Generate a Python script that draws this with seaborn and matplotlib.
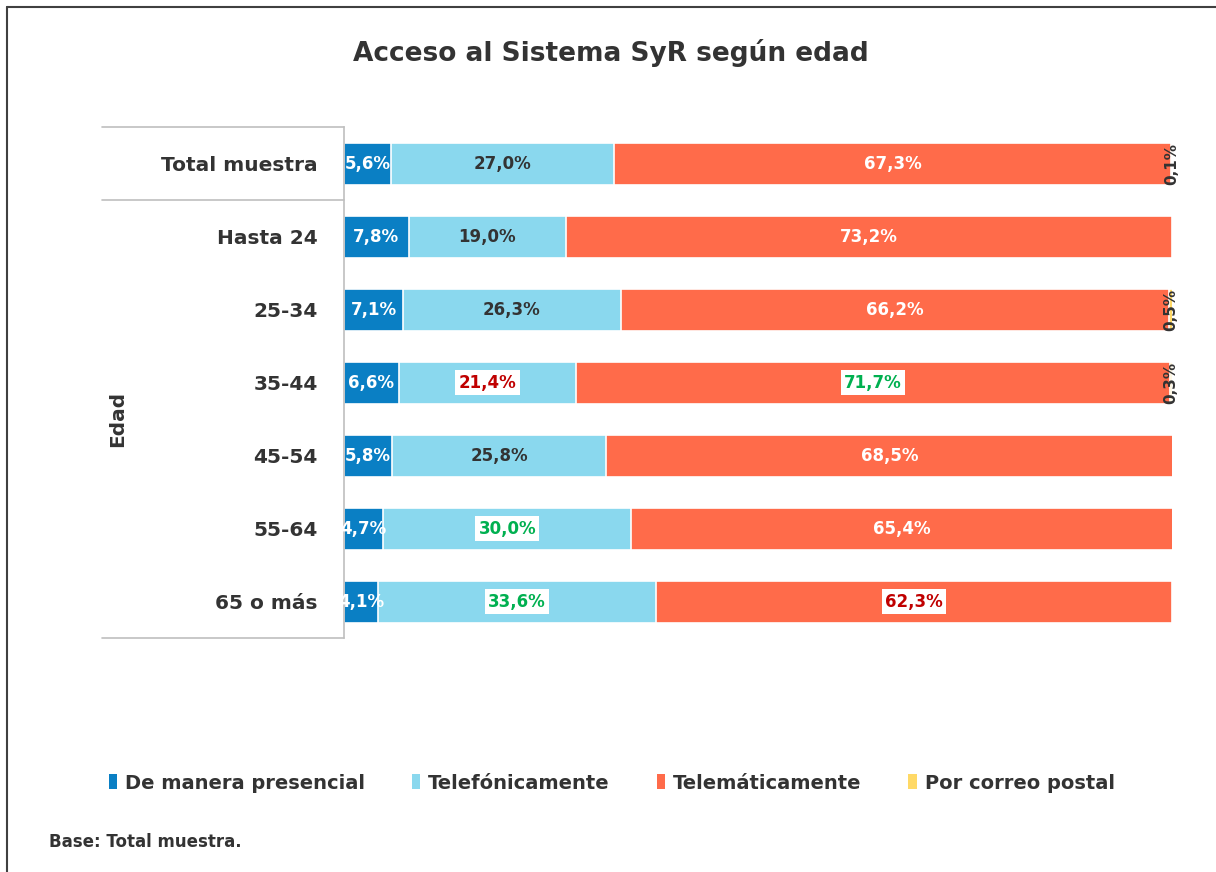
import numpy as np
import pandas as pd
import matplotlib
matplotlib.use('Agg')
import matplotlib.pyplot as plt
import matplotlib.transforms as mtransforms
from matplotlib.patches import Patch
import seaborn as sns

# Data
categories = ['Total muestra', 'Hasta 24', '25-34', '35-44', '45-54', '55-64', '65 o más']
series = ['De manera presencial', 'Telefónicamente', 'Telemáticamente', 'Por correo postal']
presencial = [5.6, 7.8, 7.1, 6.6, 5.8, 4.7, 4.1]
telefonica = [27.0, 19.0, 26.3, 21.4, 25.8, 30.0, 33.6]
telematica = [67.3, 73.2, 66.2, 71.7, 68.5, 65.4, 62.3]
correo = [0.1, 0.0, 0.5, 0.3, 0.0, 0.0, 0.0]

colors = ['#0A7FC4', '#8AD8EE', '#FF6B4A', '#FFD966']
label_colors = ['white', '#333333', 'white', '#333333']
# highlighted labels: (category, series index) -> text colour
highlights = {('35-44', 1): '#C00000', ('35-44', 2): '#00B050',
              ('55-64', 1): '#00B050', ('65 o más', 1): '#00B050',
              ('65 o más', 2): '#C00000'}

df = pd.DataFrame({'cat': categories, series[0]: presencial, series[1]: telefonica,
                   series[2]: telematica, series[3]: correo})
cum = df[series].cumsum(axis=1)

sns.set_style('white')
plt.rcParams['font.family'] = ['DejaVu Sans']
fig, ax = plt.subplots(figsize=(12.16, 8.72), dpi=100)
fig.subplots_adjust(left=0.283, right=0.964, bottom=0.268, top=0.854)

# stacked bars: draw cumulative totals from the last series to the first
for i in range(len(series) - 1, -1, -1):
    sns.barplot(x=cum[series[i]], y=df['cat'], orient='h', color=colors[i],
                width=0.58, edgecolor='white', linewidth=1.2, saturation=1, ax=ax)

# value labels
for r, cat in enumerate(categories):
    for i, s in enumerate(series):
        v = df.loc[r, s]
        if v == 0:
            continue
        start = cum.loc[r, s] - v
        txt = f'{v:.1f}%'.replace('.', ',')
        if i == 3:
            ax.text(min(start + v / 2, 99.95), r, txt, rotation=90, ha='center', va='center',
                    fontsize=11, fontweight='bold', color='#333333')
        elif (cat, i) in highlights:
            ax.text(start + v / 2, r, txt, ha='center', va='center', fontsize=12,
                    fontweight='bold', color=highlights[(cat, i)],
                    bbox=dict(boxstyle='square,pad=0.2', fc='white', ec='none'))
        else:
            ax.text(start + v / 2, r, txt, ha='center', va='center', fontsize=12,
                    fontweight='bold', color=label_colors[i])

ax.set_xlim(0, 100)
ax.set_ylim(6.5, -0.5)
ax.set_xlabel('')
ax.set_ylabel('')
ax.set_xticks([])
ax.tick_params(axis='y', length=0, pad=19, labelsize=14.5, labelcolor='#333333')
for lab in ax.get_yticklabels():
    lab.set_fontweight('bold')
for sp in ['top', 'right', 'bottom']:
    ax.spines[sp].set_visible(False)
ax.spines['left'].set_color('#BFBFBF')
ax.spines['left'].set_linewidth(1.2)

# table-like lines at the left of the bars
trans = mtransforms.blended_transform_factory(ax.transAxes, ax.transData)
for yl in [-0.5, 0.5, 6.5]:
    ax.plot([-0.292, 0], [yl, yl], color='#BFBFBF', lw=1.2, transform=trans, clip_on=False)
ax.text(-0.273, 3.5, 'Edad', rotation=90, ha='center', va='center', fontsize=14.5,
        fontweight='bold', color='#333333', transform=trans)

fig.suptitle('Acceso al Sistema SyR según edad', x=0.502, y=0.955, fontsize=19,
             fontweight='bold', color='#333333')

handles = [Patch(facecolor=c, edgecolor='none') for c in colors]
fig.legend(handles, series, loc='center', bbox_to_anchor=(0.503, 0.102), ncol=4,
           frameon=False, handlelength=0.45, handleheight=0.8, handletextpad=0.4,
           columnspacing=2.4, prop={'weight': 'bold', 'size': 14}, labelcolor='#333333')

fig.text(0.04, 0.034, 'Base: Total muestra.', fontsize=12, fontweight='bold', color='#333333',
         va='center')

# frame lines (left and top) of the original slide
fig.add_artist(plt.Line2D([0.0058, 0.0058], [0, 0.992], color='#404040', lw=1.5,
                          transform=fig.transFigure))
fig.add_artist(plt.Line2D([0.0058, 1], [0.992, 0.992], color='#404040', lw=1.5,
                          transform=fig.transFigure))

fig.savefig('out.png', dpi=100, facecolor='white')
